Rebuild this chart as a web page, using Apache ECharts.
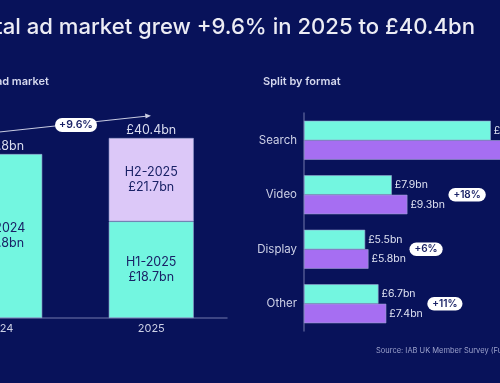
<!DOCTYPE html>
<html><head><meta charset="utf-8">
<script src="https://cdn.jsdelivr.net/npm/echarts@6/dist/echarts.min.js"></script>
<style>html,body{margin:0;padding:0;background:#08125a;}#c{width:500px;height:383px;}</style>
</head><body><div id="c"></div>
<script>
// ---- data ----
var years = ['2024', '2025'];
var lowerSegment = [36.8, 21.7];      // drawn height of lower block
var upperSegment = [null, 18.7];      // drawn height of upper block
var lowerLabels = ['FY-2024\n£36.8bn', 'H1-2025\n£18.7bn'];
var upperLabels = ['', 'H2-2025\n£21.7bn'];
var totals = [36.8, 40.4];
var totalLabels = ['£36.8bn', '£40.4bn'];
var formats = ['Search', 'Video', 'Display', 'Other'];
var fy2024 = [16.8, 7.9, 5.5, 6.7];
var fy2025 = [17.9, 9.3, 5.8, 7.4];
var growth = ['+7%', '+18%', '+6%', '+11%'];

var FONT = 'Inter, "Noto Sans", sans-serif';
var chart = echarts.init(document.getElementById('c'), null, {renderer: 'canvas'});
var axisCol = '#4f5791';
var lblCol = '#cdd0e6';
var navy = '#1a2266';

var option = {
  backgroundColor: '#08125a',
  animation: false,
  textStyle: {fontFamily: FONT},
  grid: [
    {left: -76, width: 303, top: 95.25, height: 222.75, containLabel: false, outerBoundsMode: 'none'},
    {left: 304, width: 222.4, top: 113, height: 218, containLabel: false, outerBoundsMode: 'none'}
  ],
  xAxis: [
    {gridIndex: 0, type: 'category', data: years,
     axisLine: {lineStyle: {color: axisCol, width: 1.5}}, axisTick: {show: false},
     axisLabel: {color: lblCol, fontSize: 11, margin: 5, fontFamily: FONT}},
    {gridIndex: 1, type: 'value', min: 0, max: 20, show: false}
  ],
  yAxis: [
    {gridIndex: 0, type: 'value', min: 0, max: 50, show: false},
    {gridIndex: 1, type: 'category', data: formats, inverse: true,
     axisLine: {lineStyle: {color: axisCol, width: 1.5}}, axisTick: {show: false},
     axisLabel: {color: lblCol, fontSize: 11.5, margin: 7, fontFamily: FONT}}
  ],
  series: [
    {type: 'bar', xAxisIndex: 0, yAxisIndex: 0, stack: 'tot', barWidth: 85,
     data: lowerSegment,
     itemStyle: {color: '#73f6e0', borderColor: '#9aa3d0', borderWidth: 0.6},
     label: {show: true, position: 'inside', color: navy, fontSize: 12.5, lineHeight: 15, fontFamily: FONT,
       formatter: function (p) { return lowerLabels[p.dataIndex]; }}},
    {type: 'bar', xAxisIndex: 0, yAxisIndex: 0, stack: 'tot', barWidth: 85,
     data: upperSegment,
     itemStyle: {color: '#dcc8f8', borderColor: '#9aa3d0', borderWidth: 0.6},
     label: {show: true, position: 'inside', color: navy, fontSize: 12.5, lineHeight: 15, fontFamily: FONT,
       formatter: function (p) { return upperLabels[p.dataIndex]; }}},
    {type: 'scatter', xAxisIndex: 0, yAxisIndex: 0, symbolSize: 0, data: totals, silent: true,
     itemStyle: {opacity: 1},
     label: {show: true, position: 'top', distance: 1, color: '#d9dcef', fontSize: 12.5, fontFamily: FONT,
       formatter: function (p) { return totalLabels[p.dataIndex]; }}},
    {type: 'bar', xAxisIndex: 1, yAxisIndex: 1, barWidth: 19.5, barGap: '0%', data: fy2024,
     itemStyle: {color: '#73f6e0', borderColor: '#9aa3d0', borderWidth: 0.6},
     label: {show: true, position: 'right', distance: 3, color: '#dfe2f2', fontSize: 10.5, fontFamily: FONT,
       formatter: function (p) { return '£' + p.value + 'bn'; }}},
    {type: 'bar', xAxisIndex: 1, yAxisIndex: 1, barWidth: 19.5, barGap: '0%', data: fy2025,
     itemStyle: {color: '#a66ef2', borderColor: '#9aa3d0', borderWidth: 0.6},
     label: {show: true, position: 'right', distance: 3, color: '#dfe2f2', fontSize: 10.5, fontFamily: FONT,
       formatter: function (p) { return '£' + p.value + 'bn'; }}},
    {type: 'scatter', xAxisIndex: 1, yAxisIndex: 1, symbolSize: 0, silent: true,
     itemStyle: {opacity: 1},
     data: fy2025.map(function (v, i) { return [v, i]; }),
     label: {show: true, position: 'right', distance: 41, color: navy, fontSize: 10, fontWeight: 600,
       lineHeight: 10, fontFamily: FONT, backgroundColor: '#ffffff', borderRadius: 7, padding: [2, 5, 1.5, 5],
       formatter: function (p) { return growth[p.dataIndex]; }}}
  ],
  graphic: [
    {type: 'text', x: 475, y: 16, style: {text: 'UK digital ad market grew +9.6% in 2025 to £40.4bn',
      fill: '#ececf4', font: '500 22.1px ' + FONT, textAlign: 'right'}},
    {type: 'text', x: 49, y: 76, style: {text: 'UK digital ad market', fill: '#d5d8ee',
      font: '600 11px ' + FONT, textAlign: 'right'}},
    {type: 'text', x: 263, y: 76, style: {text: 'Split by format', fill: '#d5d8ee',
      font: '600 11px ' + FONT}},
    {type: 'line', shape: {x1: -10, y1: 133, x2: 148, y2: 116}, style: {stroke: '#c9cce2', lineWidth: 1}},
    {type: 'polygon', shape: {points: [[151, 115.7], [145, 113.6], [145.6, 118.6]]}, style: {fill: '#c9cce2'}},
    {type: 'rect', shape: {x: 55, y: 118, width: 42, height: 14, r: 7}, style: {fill: '#ffffff'}},
    {type: 'text', x: 76, y: 125, style: {text: '+9.6%', fill: navy, font: '600 10.5px ' + FONT,
      textAlign: 'center', textVerticalAlign: 'middle'}},
    {type: 'text', x: 376, y: 347, style: {text: 'Source: IAB UK Member Survey (Full Year 2025)',
      fill: '#9ca2cc', font: '7.5px ' + FONT}}
  ]
};
chart.setOption(option);
</script>
</body></html>
